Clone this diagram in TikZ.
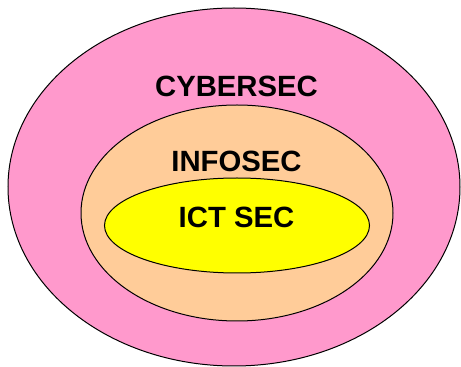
\documentclass[tikz,border=0pt]{standalone}
\usepackage{fontspec}
\setmainfont{Liberation Sans}
\usetikzlibrary{shapes.geometric}
\definecolor{cyberpink}{HTML}{FF99CC}
\definecolor{infopeach}{HTML}{FFCC99}
\definecolor{ictyellow}{HTML}{FFFF00}
\begin{document}
\begin{tikzpicture}[x=1pt,y=1pt,
  zone/.style={ellipse,draw=black,line width=1pt,inner sep=0pt},
  label/.style={anchor=base,inner sep=0pt,font=\fontsize{29.3}{31}\selectfont\bfseries}]
  \useasboundingbox (0,0) rectangle (461,367);
  \begin{scope}
    \clip (0,0) rectangle (461,367);
    \node[zone,fill=cyberpink,minimum width=452pt,minimum height=358pt] (cyber) at (234,180) {};
    \node[zone,fill=infopeach,minimum width=312pt,minimum height=216pt] (info) at (237,154) {};
    \node[zone,fill=ictyellow,minimum width=265pt,minimum height=95pt] (ict) at (237,141.5) {};
  \end{scope}
  \node[label] (cybertext) at (236.5,270) {CYBERSEC};
  \node[label] (infotext) at (236.5,195) {INFOSEC};
  \node[label] (icttext) at (236.5,139) {ICT SEC};
\end{tikzpicture}
\end{document}
